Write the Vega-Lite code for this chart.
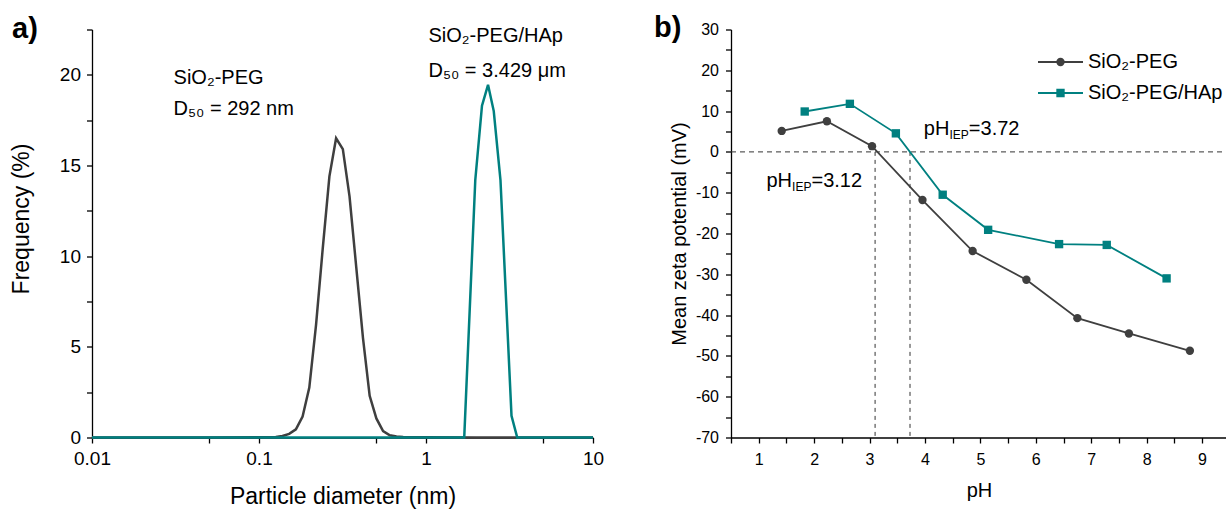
{
  "$schema": "https://vega.github.io/schema/vega-lite/v6.json",
  "background": "white",
  "padding": {"left": 10, "top": 13.5, "right": 0, "bottom": 0},
  "bounds": "flush",
  "spacing": 138,
  "config": {
    "font": "Liberation Sans",
    "view": {"stroke": null},
    "axis": {"domainColor": "#000", "domainWidth": 1.3, "tickColor": "#000", "tickWidth": 1.3, "labelColor": "#000", "titleColor": "#000", "grid": false, "labelFont": "Liberation Sans", "titleFont": "Liberation Sans", "titleFontWeight": "normal", "labelOverlap": false, "labelFlush": false},
    "legend": {"labelFont": "Liberation Sans"},
    "text": {"font": "Liberation Sans", "color": "#000"},
    "title": {"font": "Liberation Sans", "color": "#000"}
  },
  "datasets": {
    "psd": [
      {"d": 0.01, "f": 0, "s": "a"}, {"d": 0.05, "f": 0, "s": "a"}, {"d": 0.1, "f": 0.02, "s": "a"}, {"d": 0.1261, "f": 0.03, "s": "a"},
      {"d": 0.1382, "f": 0.08, "s": "a"}, {"d": 0.1516, "f": 0.2, "s": "a"}, {"d": 0.1663, "f": 0.45, "s": "a"}, {"d": 0.1824, "f": 1.15, "s": "a"},
      {"d": 0.2001, "f": 2.75, "s": "a"}, {"d": 0.2195, "f": 6.2, "s": "a"}, {"d": 0.2407, "f": 10.4, "s": "a"}, {"d": 0.264, "f": 14.4, "s": "a"},
      {"d": 0.2895, "f": 16.5, "s": "a"}, {"d": 0.3177, "f": 15.9, "s": "a"}, {"d": 0.3484, "f": 13.3, "s": "a"}, {"d": 0.3822, "f": 9.4, "s": "a"},
      {"d": 0.4193, "f": 5.5, "s": "a"}, {"d": 0.4599, "f": 2.3, "s": "a"}, {"d": 0.5044, "f": 1.05, "s": "a"}, {"d": 0.5534, "f": 0.35, "s": "a"},
      {"d": 0.6069, "f": 0.12, "s": "a"}, {"d": 0.6658, "f": 0.05, "s": "a"}, {"d": 0.7302, "f": 0.03, "s": "a"}, {"d": 1, "f": 0.01, "s": "a"},
      {"d": 2, "f": 0, "s": "a"}, {"d": 10, "f": 0, "s": "a"},
      {"d": 0.01, "f": 0, "s": "b"}, {"d": 1.694, "f": 0, "s": "b"}, {"d": 1.973, "f": 14.2, "s": "b"}, {"d": 2.164, "f": 18.3, "s": "b"},
      {"d": 2.352, "f": 19.45, "s": "b"}, {"d": 2.545, "f": 18.0, "s": "b"}, {"d": 2.792, "f": 14.2, "s": "b"}, {"d": 3.251, "f": 1.2, "s": "b"},
      {"d": 3.518, "f": 0, "s": "b"}, {"d": 10, "f": 0, "s": "b"}
    ],
    "psdtext": [
      {"d": 0.0308, "f": 19.5, "t": "SiO₂-PEG"},
      {"d": 0.0308, "f": 17.8, "t": "D₅₀ = 292 nm"},
      {"d": 1.035, "f": 21.8, "t": "SiO₂-PEG/HAp"},
      {"d": 1.035, "f": 19.9, "t": "D₅₀ = 3.429 μm"}
    ],
    "zeta": [
      {"ph": 1.415, "z": 5.14, "series": "SiO₂-PEG", "sid": "a"}, {"ph": 2.23, "z": 7.5, "series": "SiO₂-PEG", "sid": "a"}, {"ph": 3.045, "z": 1.4, "series": "SiO₂-PEG", "sid": "a"},
      {"ph": 3.955, "z": -11.8, "series": "SiO₂-PEG", "sid": "a"}, {"ph": 4.86, "z": -24.3, "series": "SiO₂-PEG", "sid": "a"}, {"ph": 5.83, "z": -31.35, "series": "SiO₂-PEG", "sid": "a"},
      {"ph": 6.75, "z": -40.75, "series": "SiO₂-PEG", "sid": "a"}, {"ph": 7.68, "z": -44.5, "series": "SiO₂-PEG", "sid": "a"}, {"ph": 8.78, "z": -48.75, "series": "SiO₂-PEG", "sid": "a"},
      {"ph": 1.83, "z": 9.9, "series": "SiO₂-PEG/HAp", "sid": "b"}, {"ph": 2.645, "z": 11.78, "series": "SiO₂-PEG/HAp", "sid": "b"}, {"ph": 3.475, "z": 4.55, "series": "SiO₂-PEG/HAp", "sid": "b"},
      {"ph": 4.32, "z": -10.5, "series": "SiO₂-PEG/HAp", "sid": "b"}, {"ph": 5.14, "z": -19.1, "series": "SiO₂-PEG/HAp", "sid": "b"}, {"ph": 6.42, "z": -22.6, "series": "SiO₂-PEG/HAp", "sid": "b"},
      {"ph": 7.28, "z": -22.8, "series": "SiO₂-PEG/HAp", "sid": "b"}, {"ph": 8.36, "z": -31.0, "series": "SiO₂-PEG/HAp", "sid": "b"}
    ],
    "iep": [
      {"ph": 3.98, "z": 4.2, "a": "pH", "b": "IEP", "c": "=3.72"},
      {"ph": 1.14, "z": -8.55, "a": "pH", "b": "IEP", "c": "=3.12"}
    ],
    "hline": [{"ph": 0.5, "ph2": 9.45, "z": 0}],
    "vlines": [{"ph": 3.1, "z": 0, "z2": -70}, {"ph": 3.73, "z": 0, "z2": -70}]
  },
  "hconcat": [
    {
      "width": 501,
      "height": 408,
      "title": {"text": "a)", "anchor": "start", "frame": "group", "fontSize": 29, "fontWeight": "bold", "dx": -80, "offset": -46.7, "baseline": "alphabetic"},
      "encoding": {
        "x": {
          "field": "d", "type": "quantitative",
          "scale": {"type": "log", "domain": [0.01, 10], "nice": false},
          "axis": {
            "title": "Particle diameter (nm)", "titleFontSize": 23, "titlePadding": 17,
            "values": [0.01, 0.05, 0.1, 0.5, 1, 5, 10], "format": "~g",
            "labelExpr": "(datum.value == 0.05 || datum.value == 0.5 || datum.value == 5) ? '' : datum.label",
            "labelFontSize": 19, "labelPadding": 6.5, "tickSize": 5.5,
            "encode": {"ticks": {"y2": {"condition": {"test": "datum.value == 0.05 || datum.value == 0.5 || datum.value == 5", "value": 3}, "value": 5.5}}}
          }
        },
        "y": {
          "field": "f", "type": "quantitative",
          "scale": {"domain": [0, 22.5], "nice": false},
          "axis": {
            "title": "Frequency (%)", "titleFontSize": 23, "titlePadding": 26, "titleY": 189,
            "values": [0, 2.5, 5, 7.5, 10, 12.5, 15, 17.5, 20, 22.5],
            "labelExpr": "datum.value % 5 === 0 ? datum.label : ''",
            "labelFontSize": 19, "labelPadding": 6, "tickSize": 5.5,
            "encode": {"ticks": {"x2": {"condition": {"test": "datum.value % 5 !== 0", "value": -3}, "value": -5.5}}}
          }
        }
      },
      "layer": [
        {"data": {"name": "psd"}, "transform": [{"filter": "datum.s === 'a'"}], "mark": {"type": "line", "color": "#3f3f3f", "strokeWidth": 2.5}},
        {"data": {"name": "psd"}, "transform": [{"filter": "datum.s === 'b'"}], "mark": {"type": "line", "color": "#008080", "strokeWidth": 2.5}},
        {"data": {"name": "psdtext"}, "mark": {"type": "text", "align": "left", "baseline": "alphabetic", "fontSize": 20}, "encoding": {"text": {"field": "t"}}}
      ]
    },
    {
      "width": 496,
      "height": 408,
      "title": {"text": "b)", "anchor": "start", "frame": "group", "fontSize": 29, "fontWeight": "bold", "dx": -77, "offset": -44.7, "baseline": "alphabetic"},
      "encoding": {
        "x": {
          "field": "ph", "type": "quantitative",
          "scale": {"domain": [0.5, 9.45], "nice": false, "zero": false},
          "axis": {
            "title": "pH", "titleFontSize": 20, "titlePadding": 13,
            "values": [0.5, 1, 1.5, 2, 2.5, 3, 3.5, 4, 4.5, 5, 5.5, 6, 6.5, 7, 7.5, 8, 8.5, 9], "format": "~g",
            "labelExpr": "datum.value % 1 === 0 ? datum.label : ''",
            "labelFontSize": 16, "labelPadding": 8, "tickSize": 5.5,
            "encode": {"ticks": {"y2": {"condition": {"test": "datum.value % 1 !== 0", "value": 3}, "value": 5.5}}}
          }
        },
        "y": {
          "field": "z", "type": "quantitative",
          "scale": {"domain": [-70, 30], "nice": false, "zero": false},
          "axis": {
            "title": "Mean zeta potential (mV)", "titleFontSize": 20, "titlePadding": 6,
            "values": [-70, -65, -60, -55, -50, -45, -40, -35, -30, -25, -20, -15, -10, -5, 0, 5, 10, 15, 20, 25, 30],
            "labelExpr": "datum.value % 10 === 0 ? toString(datum.value) : ''",
            "labelFontSize": 16, "labelPadding": 7, "tickSize": 5.5,
            "encode": {"ticks": {"x2": {"condition": {"test": "datum.value % 10 !== 0", "value": -3}, "value": -5.5}}}
          }
        }
      },
      "layer": [
        {"data": {"name": "hline"}, "mark": {"type": "rule", "color": "#333", "strokeWidth": 1, "strokeDash": [5, 4]}, "encoding": {"x2": {"field": "ph2"}}},
        {"data": {"name": "vlines"}, "mark": {"type": "rule", "color": "#333", "strokeWidth": 1, "strokeDash": [4, 4]}, "encoding": {"y2": {"field": "z2"}}},
        {
          "data": {"name": "zeta"},
          "mark": {"type": "line", "strokeWidth": 1.8},
          "encoding": {
            "stroke": {
              "field": "sid", "type": "nominal",
              "scale": {"domain": ["a", "b"], "range": ["#3f3f3f", "#008080"]},
              "legend": {"title": null, "orient": "none", "legendX": 945, "legendY": 20.5, "padding": 0, "symbolType": "stroke", "symbolSize": 2025, "symbolStrokeWidth": 1.8, "labelExpr": "''", "rowPadding": 7, "clipHeight": 24}
            }
          }
        },
        {
          "data": {"name": "zeta"},
          "mark": {"type": "point", "filled": true, "opacity": 1, "size": 70},
          "encoding": {
            "fill": {
              "field": "series", "type": "nominal",
              "scale": {"domain": ["SiO₂-PEG", "SiO₂-PEG/HAp"], "range": ["#3f3f3f", "#008080"]},
              "legend": {"title": null, "orient": "none", "legendX": 958.5, "legendY": 20.5, "padding": 0, "symbolSize": 70, "labelFontSize": 20, "labelOffset": 17.5, "labelColor": "#000", "rowPadding": 7, "clipHeight": 24}
            },
            "shape": {
              "field": "series", "type": "nominal",
              "scale": {"domain": ["SiO₂-PEG", "SiO₂-PEG/HAp"], "range": ["circle", "square"]},
              "legend": {"title": null, "orient": "none", "legendX": 958.5, "legendY": 20.5, "padding": 0, "symbolSize": 70, "labelFontSize": 20, "labelOffset": 17.5, "labelColor": "#000", "rowPadding": 7, "clipHeight": 24}
            }
          }
        },
        {"data": {"name": "iep"}, "mark": {"type": "text", "align": "left", "baseline": "alphabetic", "fontSize": 20}, "encoding": {"text": {"field": "a"}}},
        {"data": {"name": "iep"}, "mark": {"type": "text", "align": "left", "baseline": "alphabetic", "fontSize": 12, "dx": 25.6, "dy": 4}, "encoding": {"text": {"field": "b"}}},
        {"data": {"name": "iep"}, "mark": {"type": "text", "align": "left", "baseline": "alphabetic", "fontSize": 20, "dx": 45}, "encoding": {"text": {"field": "c"}}}
      ]
    }
  ]
}
